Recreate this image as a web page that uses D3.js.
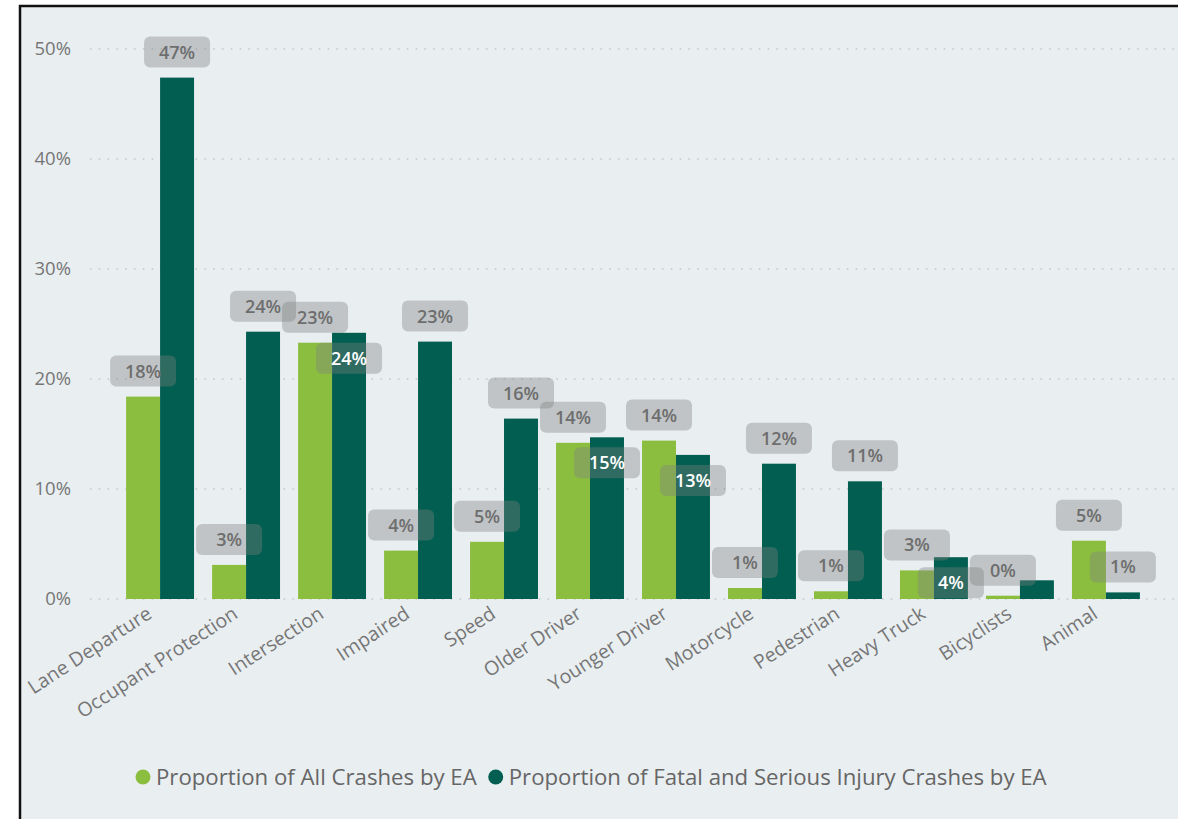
<!DOCTYPE html>
<html>
<head>
<meta charset="utf-8">
<script src="https://cdn.jsdelivr.net/npm/d3@7"></script>
<style>
  html, body { margin: 0; padding: 0; background: #fff; }
  text { font-family: "Open Sans", "Noto Sans", sans-serif; }
</style>
</head>
<body>
<div id="chart"></div>
<script>
// 类别
const categories = ["Lane Departure", "Occupant Protection", "Intersection", "Impaired", "Speed",
  "Older Driver", "Younger Driver", "Motorcycle", "Pedestrian", "Heavy Truck", "Bicyclists", "Animal"];
// 系列数值 (%)
const allCrashes   = [18.4, 3.1, 23.3, 4.4, 5.2, 14.2, 14.4, 1.0, 0.7, 2.6, 0.3, 5.3];
const fatalSerious = [47.4, 24.3, 24.2, 23.4, 16.4, 14.7, 13.1, 12.3, 10.7, 3.8, 1.7, 0.6];
const yTicks = [0, 10, 20, 30, 40, 50];
const seriesNames = ["Proportion of All Crashes by EA", "Proportion of Fatal and Serious Injury Crashes by EA"];
const seriesColors = ["#8bbe3f", "#015e50"];

const W = 1178, H = 819;
const svg = d3.select("#chart").append("svg").attr("width", W).attr("height", H);

// 背景和边框
svg.append("rect").attr("x", 0).attr("y", 0).attr("width", W).attr("height", H).attr("fill", "#fff");
svg.append("rect").attr("x", 20).attr("y", 6).attr("width", W + 10).attr("height", H + 10)
  .attr("fill", "#e9eef1").attr("stroke", "#111").attr("stroke-width", 2.5);

const x0 = d3.scaleBand().domain(categories).range([90, 1176]).paddingInner(0.21).paddingOuter(0.42);
const x1 = d3.scaleBand().domain([0, 1]).range([0, x0.bandwidth()]);
const y = d3.scaleLinear().domain([0, 50]).range([599, 49]);

// 网格线
svg.append("g").selectAll("line").data(yTicks).join("line")
  .attr("x1", 90).attr("x2", W).attr("y1", d => y(d)).attr("y2", d => y(d))
  .attr("stroke", "#c3c6c8").attr("stroke-width", 1.5).attr("stroke-dasharray", "1.5,7.3");

// y轴
const yAxis = svg.append("g").attr("transform", "translate(74,0)")
  .call(d3.axisLeft(y).tickValues(yTicks).tickFormat(d => d + "%").tickSize(0));
yAxis.select(".domain").remove();
yAxis.selectAll("text").attr("fill", "#767676").style("font-size", "18.5px").attr("dx", 0);

// 柱子
const data = categories.map((c, i) => ({ cat: c, vals: [allCrashes[i], fatalSerious[i]] }));
const groups = svg.append("g").selectAll("g").data(data).join("g")
  .attr("transform", d => `translate(${x0(d.cat)},0)`);
groups.selectAll("rect").data(d => d.vals.map((v, s) => ({ v, s }))).join("rect")
  .attr("x", d => x1(d.s)).attr("width", x1.bandwidth())
  .attr("y", d => y(d.v)).attr("height", d => y(0) - y(d.v))
  .attr("fill", d => seriesColors[d.s]);

// 数据标签 (避让: 重叠则放入柱内, 放不下则隐藏)
const fmt = v => Math.round(v) + "%";
const boxW = 66, boxH = 31, gap = 10;
const labels = [];
data.forEach(d => {
  const cx0 = x0(d.cat) + x1(0) + x1.bandwidth() / 2;
  const cx1 = x0(d.cat) + x1(1) + x1.bandwidth() / 2;
  const a = { cx: cx0, cy: y(d.vals[0]) - gap - boxH / 2, v: d.vals[0], inside: false };
  labels.push(a);
  const b = { cx: cx1, cy: y(d.vals[1]) - gap - boxH / 2, v: d.vals[1], inside: false };
  const overlap = Math.abs(a.cx - b.cx) < boxW && Math.abs(a.cy - b.cy) < boxH;
  if (overlap) {
    const barH = y(0) - y(d.vals[1]);
    if (barH >= boxH + gap) {
      b.cy = y(d.vals[1]) + gap + boxH / 2;
      b.inside = true;
      labels.push(b);
    }
  } else {
    labels.push(b);
  }
});
const lab = svg.append("g").selectAll("g").data(labels).join("g")
  .attr("transform", d => `translate(${d.cx},${d.cy})`);
lab.append("rect").attr("x", -boxW / 2).attr("y", -boxH / 2).attr("width", boxW).attr("height", boxH)
  .attr("rx", 6).attr("fill", "rgba(125,128,130,0.38)");
lab.append("text").attr("text-anchor", "middle").attr("dy", "0.36em")
  .style("font-size", "18px").style("font-weight", "600")
  .attr("fill", d => d.inside ? "#fff" : "#6e6e6e").text(d => fmt(d.v));

// x轴标签
svg.append("g").selectAll("text").data(categories).join("text")
  .attr("transform", d => `translate(${x0(d) + x0.bandwidth() / 2 - 7},${617}) rotate(-33)`)
  .attr("text-anchor", "end").attr("fill", "#767676").style("font-size", "19.5px")
  .text(d => d);

// 图例
const legend = svg.append("g").attr("transform", "translate(0,777)");
let lx = 143;
seriesNames.forEach((n, i) => {
  legend.append("circle").attr("cx", lx).attr("cy", 0).attr("r", 7.5).attr("fill", seriesColors[i]);
  const t = legend.append("text").attr("x", lx + 13).attr("y", 0).attr("dy", "0.35em")
    .attr("fill", "#666").style("font-size", "22.2px").text(n);
  lx = lx + 13 + t.node().getComputedTextLength() + 19;
});
</script>
</body>
</html>
